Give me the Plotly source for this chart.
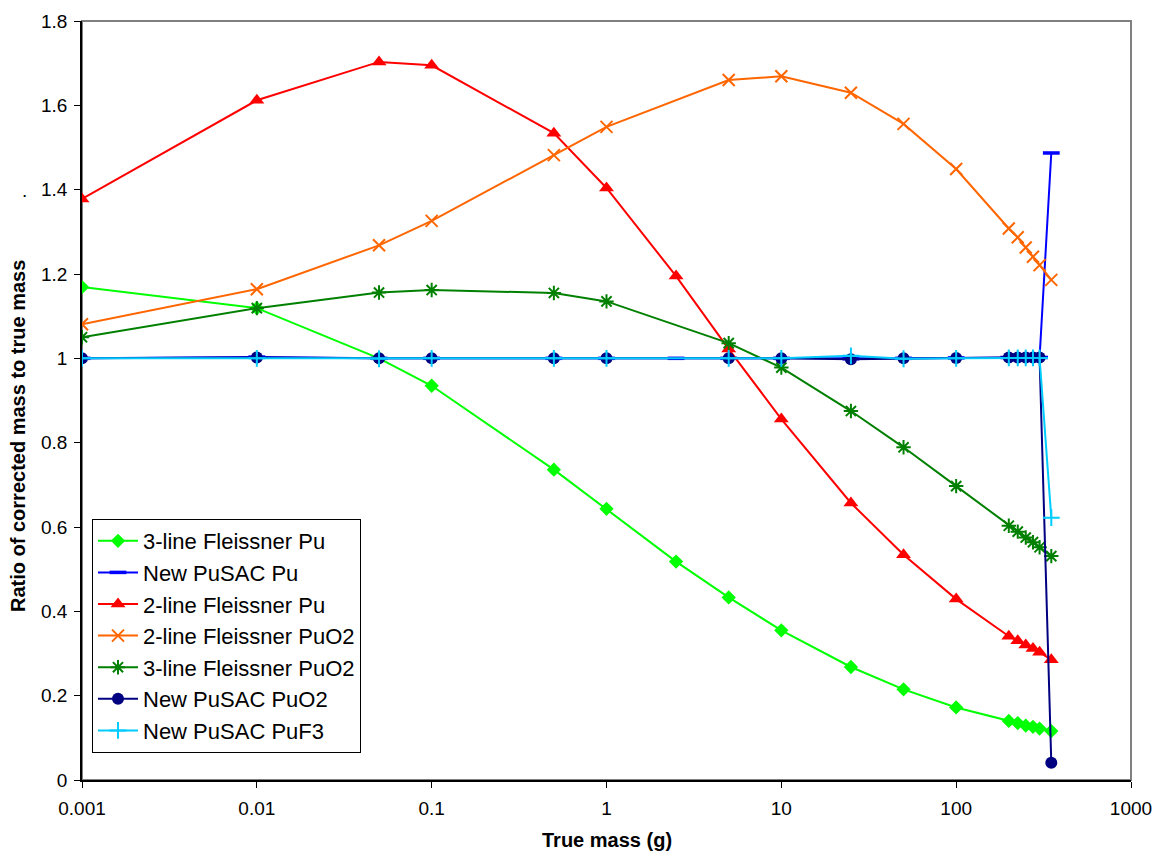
import plotly.graph_objects as go

# ---- data ----
x_all = [0.001, 0.01, 0.05, 0.1, 0.5, 1, 2.5, 5, 10, 25, 50, 100, 200, 225, 250, 275, 300, 350]
x_no25 = [0.001, 0.01, 0.05, 0.1, 0.5, 1, 5, 10, 25, 50, 100, 200, 225, 250, 275, 300, 350]

fl3_pu = [1.169, 1.119, 1.000, 0.935, 0.736, 0.643, 0.518, 0.433, 0.355, 0.268, 0.215, 0.172,
          0.140, 0.135, 0.129, 0.126, 0.122, 0.116]
sac_pu = [1.000, 1.003, 1.000, 1.000, 1.000, 1.000, 1.000, 1.000, 1.000, 0.999, 1.000, 1.001,
          1.002, 1.002, 1.002, 1.002, 1.002, 1.487]
fl2_pu = [1.378, 1.612, 1.703, 1.695, 1.534, 1.404, 1.195, 1.022, 0.856, 0.657, 0.534, 0.429,
          0.341, 0.330, 0.320, 0.312, 0.303, 0.285]
fl2_puo2 = [1.081, 1.164, 1.268, 1.326, 1.482, 1.549, 1.660, 1.669, 1.630, 1.556, 1.449,
            1.308, 1.287, 1.263, 1.241, 1.221, 1.186]
fl3_puo2 = [1.050, 1.119, 1.156, 1.162, 1.155, 1.135, 1.036, 0.978, 0.875, 0.789, 0.697,
            0.603, 0.589, 0.575, 0.564, 0.552, 0.531]
sac_puo2 = [1.000, 1.002, 1.000, 1.000, 1.000, 1.000, 1.000, 1.000, 0.998, 1.000, 1.001,
            1.002, 1.002, 1.002, 1.002, 1.002, 0.041]
sac_puf3 = [1.000, 1.000, 0.999, 1.000, 1.000, 1.000, 1.000, 1.000, 1.006, 0.999, 1.000,
            1.001, 1.001, 1.001, 1.001, 1.001, 0.622]

x_ticks = [0.001, 0.01, 0.1, 1, 10, 100, 1000]
x_ticktext = ["0.001", "0.01", "0.1", "1", "10", "100", "1000"]
y_ticks = [0, 0.2, 0.4, 0.6, 0.8, 1.0, 1.2, 1.4, 1.6, 1.8]

FONT = "Liberation Sans, Arial, sans-serif"

series = [
    ("3-line Fleissner Pu", x_all, fl3_pu, "#00FF00", dict(symbol="diamond", size=11)),
    ("New PuSAC Pu", x_all, sac_pu, "#0000FF", dict(symbol="line-ew", size=12, line=dict(width=3.5, color="#0000FF"))),
    ("2-line Fleissner Pu", x_all, fl2_pu, "#FF0000", dict(symbol="triangle-up", size=13)),
    ("2-line Fleissner PuO2", x_no25, fl2_puo2, "#FF6600", dict(symbol="x-thin", size=12, line=dict(width=2, color="#FF6600"))),
    ("3-line Fleissner PuO2", x_no25, fl3_puo2, "#008000", dict(symbol="asterisk", size=12, line=dict(width=2, color="#008000"))),
    ("New PuSAC PuO2", x_no25, sac_puo2, "#000080", dict(symbol="circle", size=12)),
    ("New PuSAC PuF3", x_no25, sac_puf3, "#00CCFF", dict(symbol="cross-thin", size=12, line=dict(width=2, color="#00CCFF"))),
]

fig = go.Figure()
for name, xs, ys, col, mk in series:
    m = dict(color=col)
    m.update(mk)
    fig.add_trace(go.Scatter(x=xs, y=ys, name=name, mode="lines+markers",
                             line=dict(color=col, width=2), marker=m))

L, R, T, B = 82, 24, 21, 72
PW, PH = 1155 - L - R, 852 - T - B

fig.update_layout(
    width=1155, height=852,
    margin=dict(l=L, r=R, t=T, b=B, autoexpand=False),
    paper_bgcolor="white", plot_bgcolor="white",
    font=dict(family=FONT, size=19, color="black"),
    showlegend=True,
    legend=dict(x=(92 - L) / PW, y=(780 - 519) / PH, xanchor="left", yanchor="top",
                bgcolor="white", bordercolor="black", borderwidth=1,
                font=dict(family=FONT, size=22, color="black"),
                tracegroupgap=0, itemwidth=40),
    shapes=[dict(type="rect", xref="paper", yref="paper", x0=0, y0=0, x1=1, y1=1,
                 line=dict(color="#808080", width=2), layer="below")],
    annotations=[
        dict(text=".", x=(24 - L) / PW, y=(780 - 191) / PH, xref="paper", yref="paper",
             showarrow=False, xanchor="center", yanchor="middle", font=dict(size=19)),
        dict(text="<b>Ratio of corrected mass to true mass</b>", textangle=-90,
             x=(18 - L) / PW, y=(780 - 436) / PH, xref="paper", yref="paper",
             showarrow=False, xanchor="center", yanchor="middle", font=dict(family=FONT, size=20)),
        dict(text="<b>True mass (g)</b>", x=(607 - L) / PW, y=(780 - 840) / PH,
             xref="paper", yref="paper", showarrow=False, xanchor="center", yanchor="middle",
             font=dict(family=FONT, size=20)),
    ],
)

fig.update_xaxes(type="log", range=[-3, 3], tickvals=x_ticks, ticktext=x_ticktext,
                 showgrid=False, zeroline=False, showline=True, linecolor="black", linewidth=1.5,
                 ticks="outside", ticklen=6, tickcolor="black", automargin=False,
                 tickfont=dict(family=FONT, size=19), ticklabelstandoff=4)
fig.update_yaxes(range=[0, 1.8], tickvals=y_ticks, showgrid=False, zeroline=False,
                 showline=True, linecolor="black", linewidth=1.5,
                 ticks="outside", ticklen=6, tickcolor="black", automargin=False,
                 tickfont=dict(family=FONT, size=19), ticklabelstandoff=3)

fig.write_html("out.html")
